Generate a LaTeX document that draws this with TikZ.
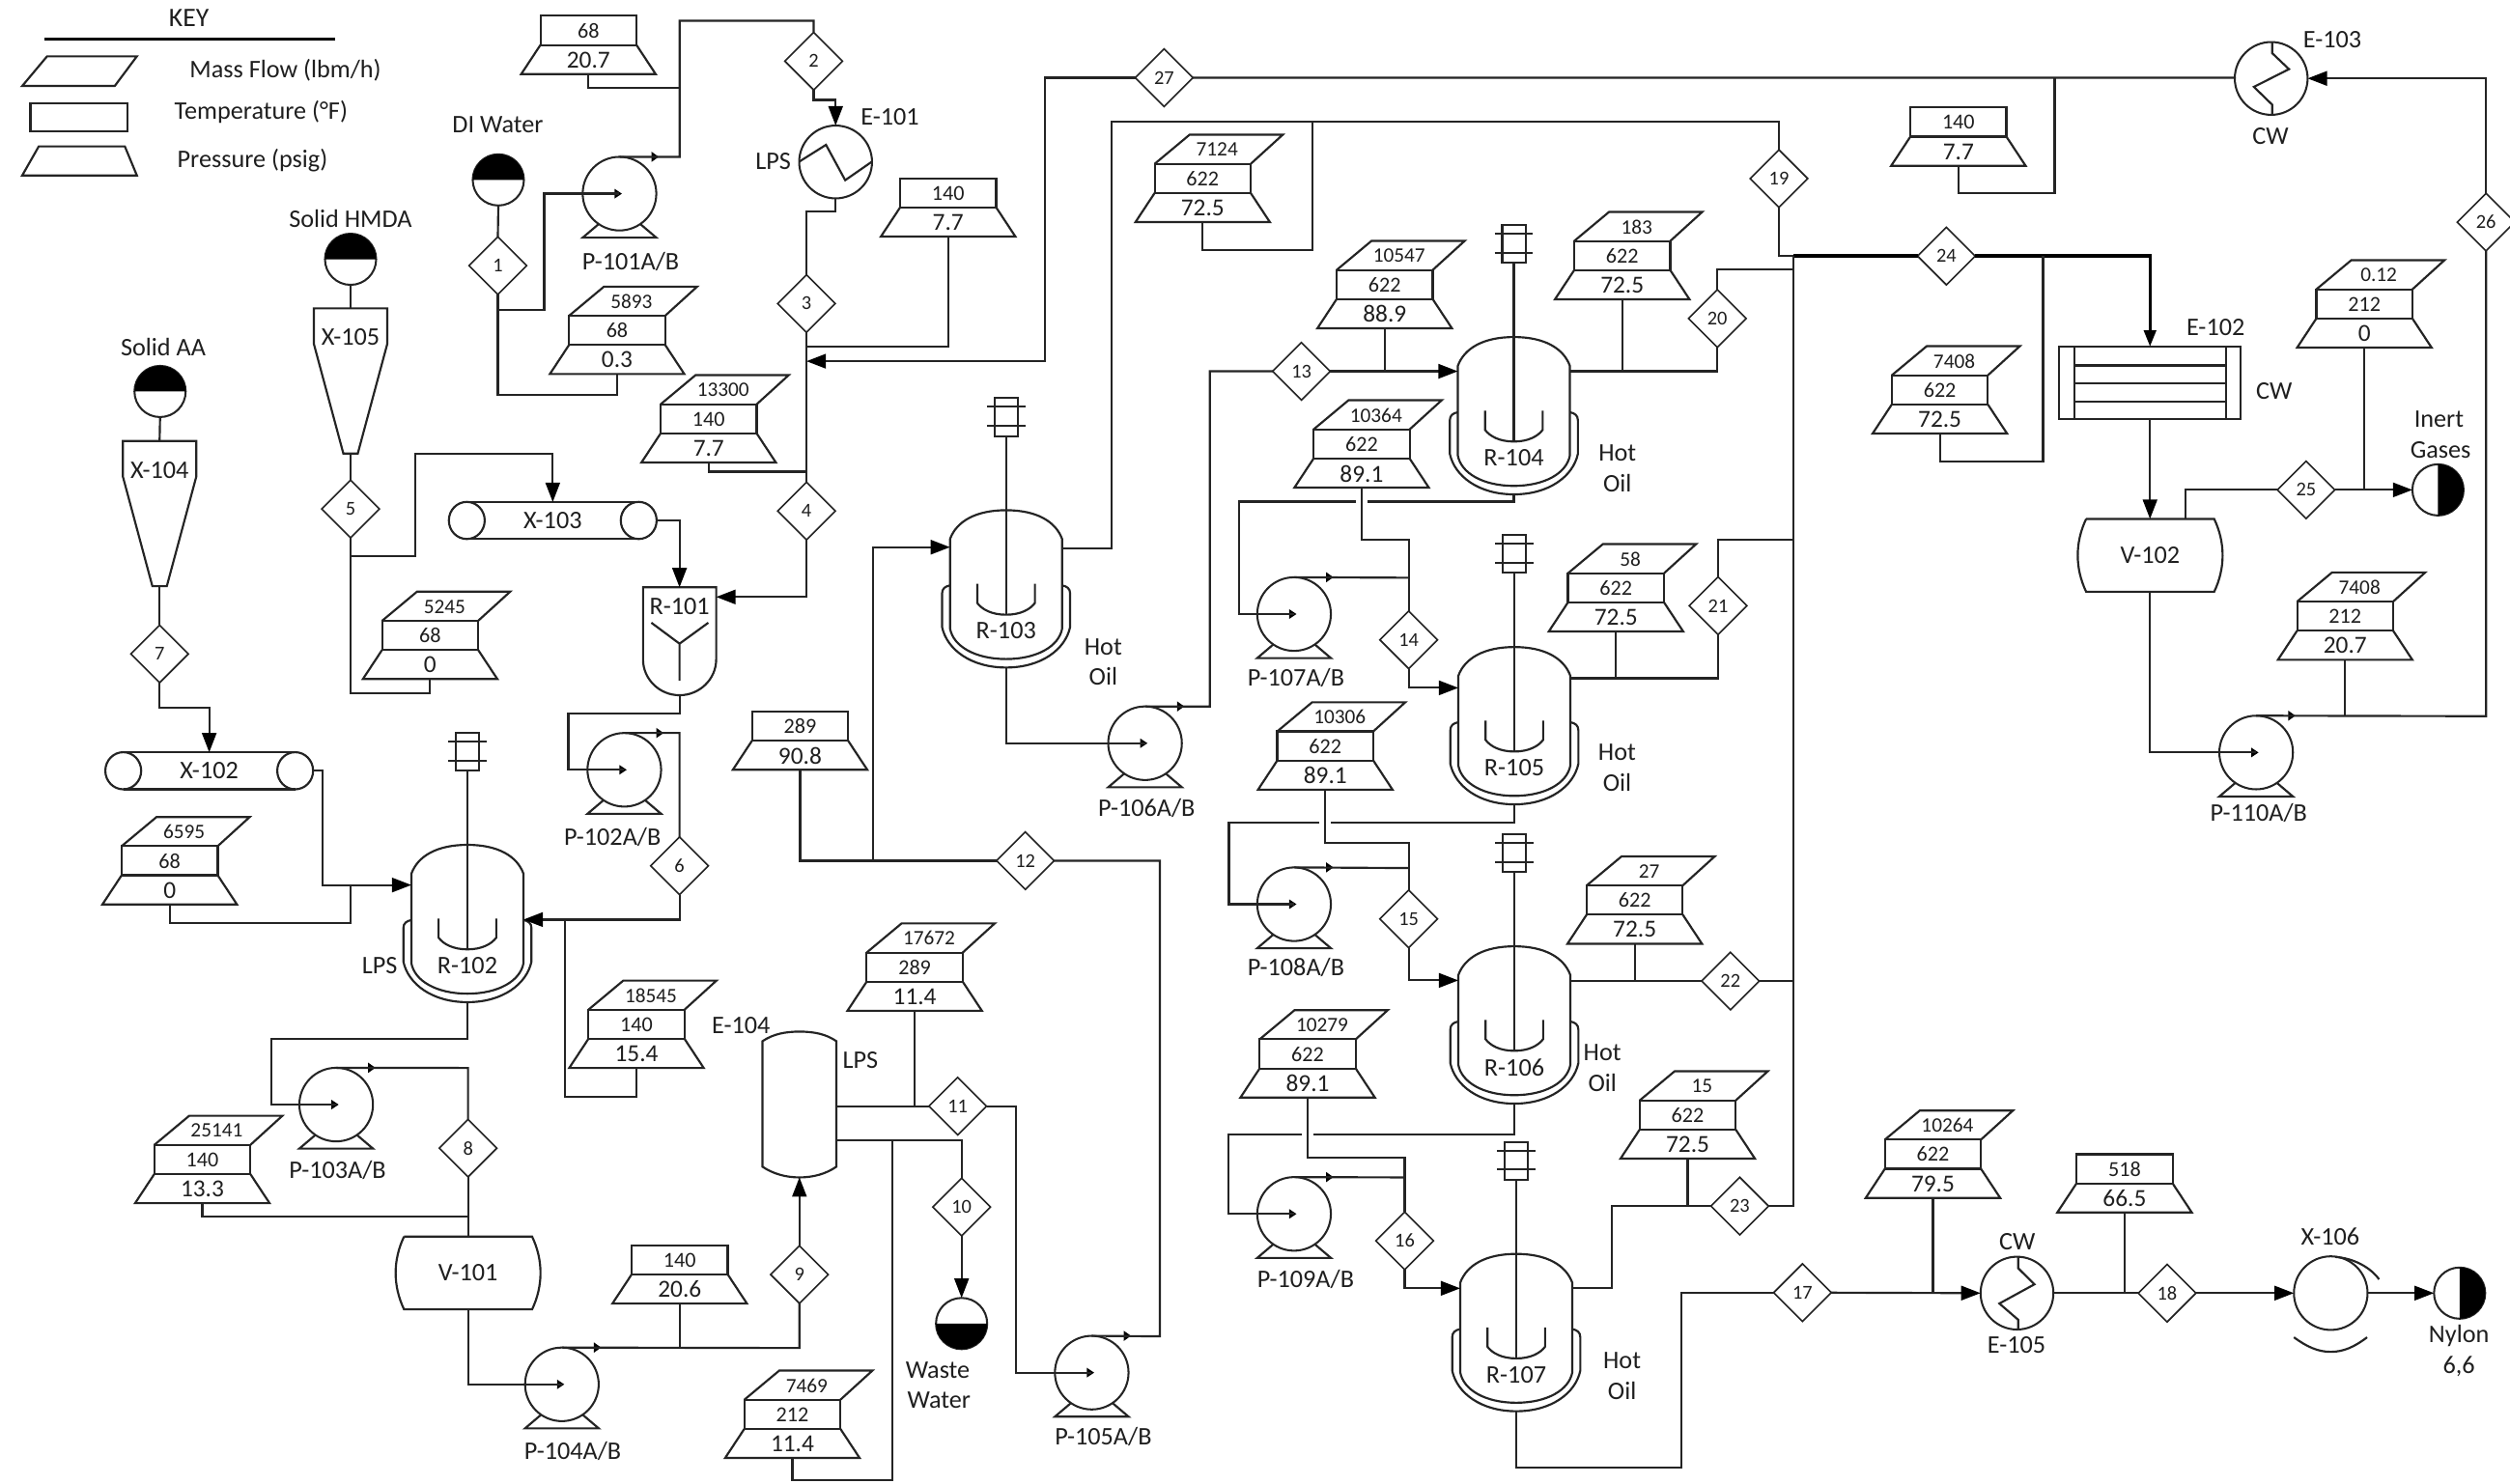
\documentclass[tikz,border=0pt]{standalone}
\usepackage{fontspec}
\setmainfont{Carlito}
\usetikzlibrary{shapes.geometric,arrows.meta}
\definecolor{linec}{gray}{0.14}
\definecolor{txtc}{gray}{0.12}
\tikzset{
  pipe/.style={draw=linec,line width=0.74pt,line join=miter},
  pipea/.style={pipe,-{Triangle[length=6.9pt,width=5.1pt,black]}},
  heavy/.style={draw=black,line width=1.2pt},
  heavya/.style={heavy,-{Triangle[length=5.8pt,width=4.2pt,black]}},
  sym/.style={draw=linec,line width=0.74pt,line join=miter},
  base/.style={inner sep=0pt,outer sep=0pt,text=txtc},
  lbl/.style={base,font=\fontsize{9}{10.8}\selectfont},
  pv/.style={base,font=\fontsize{8.7}{10}\selectfont},
  tv/.style={base,font=\fontsize{7.6}{9}\selectfont},
  fv/.style={base,font=\fontsize{7.3}{9}\selectfont},
  sn/.style={diamond,draw=linec,line width=0.55pt,fill=white,inner sep=0pt,outer sep=0pt,
    minimum width=0.72cm,minimum height=0.72cm,text=txtc,font=\fontsize{7}{8}\selectfont},
  pumpc/.style={circle,draw=linec,line width=0.7pt,minimum size=0.92cm,inner sep=0pt,outer sep=0pt},
  hx/.style={circle,draw=linec,line width=0.7pt,minimum size=0.91cm,inner sep=0pt,outer sep=0pt},
  srcc/.style={circle,draw=linec,line width=0.7pt,minimum size=0.64cm,inner sep=0pt,outer sep=0pt},
  frame/.style={base,font=\fontsize{9}{10.8}\selectfont},
}
% three-part data box: bottom centre is the named coordinate #1
\newcommand{\mytfp}[6]{%
  \coordinate (#1) at (#2,#3);
  \draw[sym] (#2-30,#3-36.4) -- (#2-8.2,#3-54.6) -- (#2+50,#3-54.6) -- (#2+30,#3-36.4);
  \draw[sym] (#2-30,#3-18.2) rectangle (#2+30,#3-36.4);
  \draw[sym] (#2-30,#3-18.2) -- (#2-42,#3) -- (#2+42,#3) -- (#2+30,#3-18.2);
  \node[fv] (#1-f) at (#2+9,#3-45.3) {#4};
  \node[tv] (#1-t) at (#2,#3-27.2) {#5};
  \node[pv] (#1-p) at (#2,#3-8.8) {#6};
}
% two-part data box
\newcommand{\mytpb}[5]{%
  \coordinate (#1) at (#2,#3);
  \draw[sym] (#2-30,#3-18.2) rectangle (#2+30,#3-36.4);
  \draw[sym] (#2-30,#3-18.2) -- (#2-42,#3) -- (#2+42,#3) -- (#2+30,#3-18.2);
  \node[tv] (#1-t) at (#2,#3-27.2) {#4};
  \node[pv] (#1-p) at (#2,#3-8.8) {#5};
}
\newcommand{\mypump}[3]{%
  \node[pumpc] (#1) at (#2,#3) {};
  \draw[sym] (#2-13,#3+19) -- (#2-23,#3+27.5) -- (#2+23,#3+27.5) -- (#2+13,#3+19);
  \fill[black] (#2+1.5,#3) -- (#2-3,#3-3) -- (#2-3,#3+3) -- cycle;
  \fill[black] (#2+24.5,#3-23) -- (#2+20,#3-26.2) -- (#2+20,#3-19.8) -- cycle;
}
% reactor: name, cx, top, label, y left nozzle, y right nozzle
\newcommand{\myreactor}[6]{%
  \coordinate (#1-l) at (#2-35,#5);
  \coordinate (#1-r) at (#2+35,#6);
  \coordinate (#1-b) at (#2,#3+98.3);
  \coordinate (#1-s) at (#2,#3-46.3);
  \draw[sym] (#2-35,#3+18) .. controls (#2-31,#3+7) and (#2-19,#3) .. (#2,#3)
     .. controls (#2+19,#3) and (#2+31,#3+7) .. (#2+35,#3+18)
     -- (#2+35,#3+74) .. controls (#2+33,#3+85) and (#2+19.3,#3+93) .. (#2,#3+93)
     .. controls (#2-19.3,#3+93) and (#2-33,#3+85) .. (#2-35,#3+74) -- cycle;
  \draw[sym] (#2-35,#3+47) .. controls (#2-38,#3+47.5) and (#2-40,#3+49) .. (#2-40,#3+52)
     -- (#2-40,#3+73) .. controls (#2-37,#3+87) and (#2-22,#3+98.3) .. (#2,#3+98.3)
     .. controls (#2+22,#3+98.3) and (#2+37,#3+87) .. (#2+40,#3+73)
     -- (#2+40,#3+52) .. controls (#2+40,#3+49) and (#2+38,#3+47.5) .. (#2+35,#3+47);
  \draw[sym] (#2-18,#3+46) -- (#2-18,#3+58) .. controls (#2-15,#3+62) and (#2-9,#3+65.3) .. (#2,#3+65.3)
     .. controls (#2+9,#3+65.3) and (#2+15,#3+62) .. (#2+18,#3+58) -- (#2+18,#3+46);
  \draw[sym] (#2-7.3,#3-70) rectangle (#2+7.3,#3-46.3);
  \draw[sym] (#2-12,#3-64.6) -- (#2+12,#3-64.6) (#2-12,#3-52.7) -- (#2+12,#3-52.7);
  \draw[sym] (#1-s) -- (#2,#3+65.3);
  \node[lbl] (#1-n) at (#2,#3+75.5) {#4};
}
\newcommand{\myhopper}[5]{%
  \coordinate (#1-t) at (#2,#3);
  \coordinate (#1-b) at (#2,#3+90.7);
  \draw[sym] (#2-22.9,#3) -- (#2+22.9,#3) -- (#2+22.9,#3+22.3) -- (#2+4.5,#3+90.7) -- (#2-4.5,#3+90.7) -- (#2-22.9,#3+22.3) -- cycle;
  \node[lbl] (#1-n) at (#2,#3+18) {#4};
}
\newcommand{\mydrumh}[5]{%
  \node[lbl,minimum width=2.6cm,minimum height=0.46cm] (#1) at (#2,#3) {#4};
  \draw[sym] (#2-53.7,#3-11.6) -- (#2+53.7,#3-11.6) (#2-53.7,#3+11.6) -- (#2+53.7,#3+11.6);
  \draw[sym] (#2-53.7,#3) ellipse (11.2 and 11.6);
  \draw[sym] (#2+53.7,#3) ellipse (11.2 and 11.6);
}
\newcommand{\myvessel}[4]{%
  \node[lbl,minimum width=1.8cm,minimum height=0.91cm] (#1) at (#2,#3) {#4};
  \draw[sym] (#2-40,#3-22.75) -- (#2+40,#3-22.75) .. controls (#2+47,#3-8) and (#2+47,#3+8) .. (#2+40,#3+22.75)
     -- (#2-40,#3+22.75) .. controls (#2-47,#3+8) and (#2-47,#3-8) .. (#2-40,#3-22.75);
}
\newcommand{\mysrc}[4]{%
  \node[srcc] (#1) at (#2,#3) {};
  \fill[black,rotate around={#4:(#2,#3)}] (#2-16,#3) .. controls (#2-16,#3-8.84) and (#2-8.84,#3-16) .. (#2,#3-16)
     .. controls (#2+8.84,#3-16) and (#2+16,#3-8.84) .. (#2+16,#3) -- cycle;
}
\begin{document}
\begin{tikzpicture}[x=0.02cm,y=-0.02cm]
\useasboundingbox[fill=white] (0,0) rectangle (1568,926.7);

% ---- key
\node[frame,font=\fontsize{9.5}{11}\selectfont] (keyt) at (118,11.5) {KEY};
\coordinate (keya) at (27.7,24.5); \coordinate (keyb) at (209.5,24.5);
\draw[black,line width=1pt] (keya) -- (keyb);
\draw[sym] (29.4,35.2) -- (85.5,35.2) -- (71.7,53.7) -- (13.9,53.7) -- cycle;
\draw[sym] (19,64.4) rectangle (79.6,82);
\draw[sym] (24.2,91.5) -- (78,91.5) -- (85.5,109.6) -- (13.9,109.6) -- cycle;
\node[lbl,anchor=west] (keyf) at (118.5,44) {Mass Flow (lbm/h)};
\node[lbl,anchor=west] (keyc) at (109,70) {Temperature (°F)};
\node[lbl,anchor=west] (keyp) at (110.8,100) {Pressure (psig)};

% ---- stream diamonds
\node[sn] (s1) at (311,166) {1};
\node[sn] (s2) at (508.3,38.2) {2};
\node[sn] (s3) at (503.8,189.7) {3};
\node[sn] (s4) at (503.8,319.3) {4};
\node[sn] (s5) at (219,318) {5};
\node[sn] (s6) at (424.5,541) {6};
\node[sn] (s7) at (99.7,408.6) {7};
\node[sn] (s8) at (292.4,717.4) {8};
\node[sn] (s9) at (499.4,796.4) {9};
\node[sn] (s10) at (600.7,754.2) {10};
\node[sn] (s11) at (598.3,691.2) {11};
\node[sn] (s12) at (640.5,537.8) {12};
\node[sn] (s13) at (813,232) {13};
\node[sn] (s14) at (880,399.8) {14};
\node[sn] (s15) at (880,574.2) {15};
\node[sn] (s16) at (877.5,775.3) {16};
\node[sn] (s17) at (1126,807.7) {17};
\node[sn] (s18) at (1353.8,808) {18};
\node[sn] (s19) at (1111.3,111.6) {19};
\node[sn] (s20) at (1072.8,199) {20};
\node[sn] (s21) at (1073.3,378.5) {21};
\node[sn] (s22) at (1081,613) {22};
\node[sn] (s23) at (1086.8,753.6) {23};
\node[sn] (s24) at (1215.9,160) {24};
\node[sn] (s25) at (1440.6,306.1) {25};
\node[sn] (s26) at (1553,138.8) {26};
\node[sn] (s27) at (727.2,48.6) {27};

% ---- sources and sinks
\mysrc{di}{311.3}{112.4}{0}
\mysrc{hm}{219}{162}{0}
\mysrc{aa}{100}{244.6}{0}
\mysrc{waste}{600.7}{827}{180}
\mysrc{ig}{1523}{306.1}{-90}
\mysrc{nylon}{1536.5}{808}{-90}
\node[lbl] (ldi) at (311,78) {DI Water};
\node[lbl] (lhm) at (219,136.4) {Solid HMDA};
\node[lbl] (laa) at (102,216.7) {Solid AA};
\node[lbl] (lw1) at (585.8,856.1) {Waste};
\node[lbl] (lw2) at (586.6,874.9) {Water};
\node[lbl] (lig1) at (1523.6,262) {Inert};
\node[lbl] (lig2) at (1524.6,281) {Gases};
\node[lbl] (lny1) at (1536.1,834.6) {Nylon};
\node[lbl] (lny2) at (1536.1,853.7) {6,6};

% ---- solids handling
\myhopper{x105}{219}{192.7}{X-105}{}
\myhopper{x104}{99.7}{275.6}{X-104}{}
\mydrumh{x103}{345.3}{325.2}{X-103}{}
\mydrumh{x102}{130.7}{481.6}{X-102}{}

% ---- R-101
\node[base,minimum width=0.914cm,minimum height=1.348cm] (r101) at (424.5,400.7) {};
\coordinate (r101r) at (447.4,373);
\draw[sym] (401.7,367) -- (447.4,367) -- (447.4,412) .. controls (447.4,424.4) and (437,434.4) .. (424.5,434.4)
   .. controls (412,434.4) and (401.7,424.4) .. (401.7,412) -- cycle;
\draw[sym] (406.9,389.1) -- (424.5,402.2) -- (442.5,389.1) (424.5,402.2) -- (424.5,425.3);
\node[lbl] (r101n) at (424.5,379) {R-101};

% ---- reactors
\myreactor{r2}{292}{527.9}{R-102}{553}{574.6}
\myreactor{r3}{628.5}{318.8}{R-103}{341.9}{342.9}
\myreactor{r4}{945.7}{210.6}{R-104}{232}{232}
\myreactor{r5}{946}{404.3}{R-105}{429.8}{423.8}
\myreactor{r6}{946}{591.3}{R-106}{612.6}{613}
\myreactor{r7}{947.2}{783.5}{R-107}{805}{805}
\node[lbl] (lps2) at (237.2,603.3) {LPS};
\node[lbl] (h3a) at (689.2,404.2) {Hot};
\node[lbl] (h3b) at (689.2,422.4) {Oil};
\node[lbl] (h4a) at (1010.4,283) {Hot};
\node[lbl] (h4b) at (1010.4,301.7) {Oil};
\node[lbl] (h5a) at (1010.2,470.2) {Hot};
\node[lbl] (h5b) at (1010.2,488.7) {Oil};
\node[lbl] (h6a) at (1001,657.6) {Hot};
\node[lbl] (h6b) at (1001,676.3) {Oil};
\node[lbl] (h7a) at (1013.3,850.1) {Hot};
\node[lbl] (h7b) at (1013.3,868.8) {Oil};

% ---- vessels
\myvessel{v1}{292.4}{795.4}{V-101}
\myvessel{v2}{1343.2}{347}{V-102}

% ---- E-104
\node[base,minimum width=0.924cm,minimum height=1.822cm] (e104) at (499.4,690.1) {};
\coordinate (e4a) at (522.5,691.2);
\coordinate (e4b) at (522.5,712.5);
\draw[sym] (476.3,650.6) .. controls (483,646) and (491,644.6) .. (499.4,644.6) .. controls (508,644.6) and (516,646) .. (522.5,650.6)
   -- (522.5,729) .. controls (516,733.5) and (508,735.7) .. (499.4,735.7) .. controls (491,735.7) and (483,733.5) .. (476.3,729) -- cycle;
\node[lbl] (e104n) at (462.9,640.5) {E-104};
\node[lbl] (e104s) at (537.5,662.3) {LPS};

% ---- exchangers
\node[hx] (e101) at (522,101.2) {};
\draw[sym] (499.3,101) -- (516,90.5) -- (528,112.6) -- (544.7,101);
\node[lbl] (e101n) at (556,73) {E-101};
\node[lbl] (e101s) at (483,101) {LPS};
\node[hx] (e103) at (1418.8,49) {};
\draw[sym] (1419.4,26.2) -- (1419.4,33.2) -- (1429.9,43.2) -- (1408,54.3) -- (1419.4,65.4) -- (1419.4,71.8);
\node[lbl] (e103n) at (1457,25) {E-103};
\node[lbl] (e103c) at (1418.4,85) {CW};
\node[hx] (e105) at (1260,808) {};
\draw[sym] (1260.7,785.3) -- (1260.7,792.4) -- (1270.9,802.5) -- (1249,814.5) -- (1260.7,824.6) -- (1260.7,830.7);
\node[lbl] (e105c) at (1260.2,775.7) {CW};
\node[lbl] (e105n) at (1259.7,840.3) {E-105};
\node[base,draw=linec,line width=0.74pt,minimum width=2.268cm,minimum height=0.908cm] (e102) at (1343.1,239.3) {};
\draw[sym] (1295.9,216.6) -- (1295.9,262) (1390.7,216.6) -- (1390.7,262);
\draw[sym] (1295.9,228.3) -- (1390.7,228.3) (1295.9,239.7) -- (1390.7,239.7) (1295.9,250.8) -- (1390.7,250.8);
\node[lbl] (e102n) at (1384.1,204.5) {E-102};
\node[lbl] (e102c) at (1420.7,244.4) {CW};
\node[pumpc] (x106) at (1456,808) {};
\coordinate (x6a) at (1458.7,785.4); \coordinate (x6b) at (1486.2,799.4);
\coordinate (x6c) at (1433,835.6); \coordinate (x6d) at (1478.7,835.6);
\draw[sym] (x6a) .. controls (1470,786) and (1481,792) .. (x6b);
\draw[sym] (x6c) .. controls (1441,841.5) and (1448,844.7) .. (1456,844.7) .. controls (1464,844.7) and (1471,841.5) .. (x6d);
\node[lbl] (x106n) at (1455.7,772.7) {X-106};

% ---- pumps
\mypump{p1}{387}{121}
\mypump{p2}{390}{481}
\mypump{p3}{210}{690.2}
\mypump{p4}{351}{865}
\mypump{p5}{682}{857.7}
\mypump{p6}{715.3}{464.4}
\mypump{p7}{808.4}{383.7}
\mypump{p8}{808.4}{565}
\mypump{p9}{808.4}{758.5}
\mypump{p10}{1409.4}{470.2}
\node[lbl] (p1n) at (394,163.3) {P-101A/B};
\node[lbl] (p2n) at (382.6,523) {P-102A/B};
\node[lbl] (p3n) at (210.9,731) {P-103A/B};
\node[lbl] (p4n) at (357.8,907) {P-104A/B};
\node[lbl] (p5n) at (689.2,897.4) {P-105A/B};
\node[lbl] (p6n) at (716.3,505.2) {P-106A/B};
\node[lbl] (p7n) at (809.6,423.4) {P-107A/B};
\node[lbl] (p8n) at (809.6,604.4) {P-108A/B};
\node[lbl] (p9n) at (815.6,799.4) {P-109A/B};
\node[lbl] (p10n) at (1411,508) {P-110A/B};

% ---- data boxes
\mytpb{b68}{367.6}{46.3}{68}{20.7}
\mytpb{b140a}{592.3}{147.8}{140}{7.7}
\mytpb{b289}{499.8}{481}{289}{90.8}
\mytpb{b140c}{424.6}{814.5}{140}{20.6}
\mytpb{b140d}{1223.4}{103.6}{140}{7.7}
\mytpb{b518}{1327.2}{757.6}{518}{66.5}
\mytfp{b5893}{385.5}{233.7}{5893}{68}{0.3}
\mytfp{b13300}{442.7}{289}{13300}{140}{7.7}
\mytfp{b5245}{268.7}{424.3}{5245}{68}{0}
\mytfp{b6595}{106}{565.1}{6595}{68}{0}
\mytfp{b18545}{397.6}{667.3}{18545}{140}{15.4}
\mytfp{b25141}{126.4}{751.8}{25141}{140}{13.3}
\mytfp{b7469}{495}{911}{7469}{212}{11.4}
\mytfp{b17672}{571.4}{631.6}{17672}{289}{11.4}
\mytfp{b7124}{751.3}{138.8}{7124}{622}{72.5}
\mytfp{b10547}{865}{205.1}{10547}{622}{88.9}
\mytfp{b183}{1013.4}{187}{183}{622}{72.5}
\mytfp{b10364}{850.6}{304.7}{10364}{622}{89.1}
\mytfp{b58}{1009.5}{394.6}{58}{622}{72.5}
\mytfp{b10306}{827.9}{493.4}{10306}{622}{89.1}
\mytfp{b27}{1021.2}{589.7}{27}{622}{72.5}
\mytfp{b10279}{816.9}{685.8}{10279}{622}{89.1}
\mytfp{b15}{1054.3}{724}{15}{622}{72.5}
\mytfp{b10264}{1207.5}{748.5}{10264}{622}{79.5}
\mytfp{b7408a}{1211.8}{270.9}{7408}{622}{72.5}
\mytfp{b012}{1477}{217.2}{0.12}{212}{0}
\mytfp{b7408b}{1465}{412.3}{7408}{212}{20.7}

% ---- connectors
\draw[pipe] (di.south) -- (s1.north);
\draw[pipe] (hm.south) -- (x105-t);
\draw[pipe] (aa.south) -- (x104-t);
\draw[pipe] (x105-b) -- (s5.north);
\draw[pipe] (x104-b) -- (s7.north);
\draw[pipea] (s7.south) -- (99.7,442.4) -- (130.7,442.4) -- (x102.north);
\draw[pipea] (x102.east) -- (201.7,481.6) -- (201.7,553) -- (r2-l);
\draw[pipe] (b6595) -- (106,576.8) -- (219.2,576.8) -- (219.2,553);
\draw[pipe] (s5.south) -- (219,433) -- (268.7,433) -- (b5245);
\draw[pipea] (219,347.5) -- (259.3,347.5) -- (259.3,283.6) -- (345.3,283.6) -- (x103.north);
\draw[pipea] (x103.east) -- (424.5,325.2) -- (r101.north);
\draw[pipe] (s1.south) -- (311,246.5) -- (385.5,246.5) -- (b5893);
\draw[pipe] (311,193.5) -- (340,193.5) -- (340,121) -- (p1.center);
\draw[pipe] (p1.north) -- (424.6,98) -- (424.6,13) -- (508.3,13) -- (s2.north);
\draw[pipe] (b68) -- (367.6,54.7) -- (424.6,54.7);
\draw[pipea] (s2.south) -- (508.3,62.4) -- (522,62.4) -- (e101.north);
\draw[pipe] (e101.south) -- (522,132.3) -- (503.8,132.3) -- (s3.north);
\draw[pipe] (s3.south) -- (s4.north);
\draw[pipe] (b140a) -- (592.3,216.8) -- (503.8,216.8);
\draw[pipe] (b13300) -- (442.7,294.7) -- (503.8,294.7);
\draw[pipea] (s4.south) -- (503.8,373) -- (r101r);
\draw[pipe] (r101.south) -- (424.5,446) -- (355,446) -- (355,481) -- (p2.center);
\draw[pipe] (p2.north) -- (424.5,458) -- (s6.north);
\draw[pipea] (s6.south) -- (424.5,574.6) -- (r2-r);
\draw[pipe] (b18545) -- (397.6,685.2) -- (352.8,685.2) -- (352.8,574.6);
\draw[pipe] (r2-b) -- (292,649.2) -- (169.3,649.2) -- (169.3,690.2) -- (p3.center);
\draw[pipe] (p3.north) -- (292.4,667.3) -- (s8.north);
\draw[pipe] (s8.south) -- (v1.north);
\draw[pipe] (b25141) -- (126.4,760.2) -- (292.4,760.2);
\draw[pipe] (v1.south) -- (292.4,865) -- (p4.center);
\draw[pipe] (p4.north) -- (499.4,842.3) -- (s9.south);
\draw[pipe] (b140c) -- (424.6,842.3);
\draw[pipea] (s9.north) -- (e104.south);
\draw[pipe] (e4a) -- (s11.west);
\draw[pipe] (b17672) -- (571.4,691.2);
\draw[pipe] (s11.east) -- (634.5,691.2) -- (634.5,857.7) -- (p5.center);
\draw[pipe] (e4b) -- (600.7,712.5) -- (s10.north);
\draw[pipe] (557.5,712.5) -- (557.5,925.1) -- (495,925.1) -- (b7469);
\draw[pipea] (s10.south) -- (waste.north);
\draw[pipe] (p5.north) -- (724.6,835) -- (724.6,537.8) -- (s12.east);
\draw[pipe] (s12.west) -- (499.8,537.8) -- (b289);
\draw[pipea] (545.6,537.8) -- (545.6,341.9) -- (r3-l);
\draw[pipe] (r3-r) -- (694.4,342.9) -- (694.4,75.8) -- (1111.3,75.8) -- (s19.north);
\draw[pipe] (b7124) -- (751.3,156.5) -- (820,156.5) -- (820,75.8);
\draw[pipe] (r3-b) -- (628.5,464.4) -- (p6.center);
\draw[pipe] (p6.north) -- (755.8,441.5) -- (755.8,232) -- (s13.west);
\draw[pipea] (s13.east) -- (r4-l);
\draw[pipe] (b10547) -- (865,232);
\draw[pipe] (r4-r) -- (1072.8,232) -- (s20.south);
\draw[pipe] (b183) -- (1013.4,232);
\draw[pipe] (s20.north) -- (1072.8,168.5) -- (1120.2,168.5);
\draw[pipe] (s19.south) -- (1111.3,160) -- (1120.2,160);
\draw[heavy] (1120.2,160) -- (s24.west);
\draw[heavya] (s24.east) -- (1343.1,160) -- (e102.north);
\draw[pipe] (1276.3,160) -- (1276.3,288.6) -- (1211.8,288.6) -- (b7408a);
\draw[pipe] (1120.2,160) -- (1120.2,753.6) -- (s23.east);
\draw[pipe] (s21.north) -- (1073.3,337) -- (1120.2,337);
\draw[pipe] (s22.east) -- (1120.2,613);
\draw[pipe] (r5-r) -- (1073.3,423.8) -- (s21.south);
\draw[pipe] (b58) -- (1009.5,423.8);
\draw[pipe] (r6-r) -- (s22.west);
\draw[pipe] (b27) -- (1021.2,613);
\draw[pipe] (s23.west) -- (1006.8,753.6) -- (1006.8,805) -- (r7-r);
\draw[pipe] (b15) -- (1054.3,753.6);
\draw[pipe] (r4-b) -- (945.7,313.4) -- (854.2,313.4);
\draw[pipe] (846.8,313.4) -- (774.2,313.4) -- (774.2,383.7) -- (p7.center);
\draw[pipe] (b10364) -- (850.6,337) -- (880,337) -- (s14.north);
\draw[pipe] (p7.north) -- (880,361);
\draw[pipea] (s14.south) -- (880,429.8) -- (r5-l);
\draw[pipe] (r5-b) -- (946,513.9) -- (831.5,513.9);
\draw[pipe] (824,513.9) -- (767.7,513.9) -- (767.7,565) -- (p8.center);
\draw[pipe] (b10306) -- (827.9,526.5) -- (880,526.5) -- (s15.north);
\draw[pipe] (p8.north) -- (880,542.4);
\draw[pipea] (s15.south) -- (880,612.6) -- (r6-l);
\draw[pipe] (r6-b) -- (946,708.9) -- (820.7,708.9);
\draw[pipe] (813,708.9) -- (767.5,708.9) -- (767.5,758.5) -- (p9.center);
\draw[pipe] (b10279) -- (816.9,723.6) -- (877.5,723.6) -- (s16.north);
\draw[pipe] (p9.north) -- (877.5,735.7);
\draw[pipea] (s16.south) -- (877.5,805) -- (r7-l);
\draw[pipe] (r7-b) -- (947.2,917) -- (1050.3,917) -- (1050.3,807.7) -- (s17.west);
\draw[pipea] (s17.east) -- (e105.west);
\draw[pipe] (b10264) -- (1207.5,807.7);
\draw[pipe] (e105.east) -- (s18.west);
\draw[pipe] (b518) -- (1327.2,808);
\draw[pipea] (s18.east) -- (x106.west);
\draw[pipea] (x106.east) -- (nylon.west);
\draw[pipea] (e102.south) -- (v2.north -| e102.south);
\draw[pipe] (v2.south) -- (1343.2,470.2) -- (p10.center);
\draw[pipe] (p10.north) -- (1553,447.5) -- (s26.south);
\draw[pipe] (b7408b) -- (1465,447.5);
\draw[pipea] (s26.north) -- (1553,49) -- (e103.east);
\draw[pipe] (e103.west) -- (1396,48.6) -- (s27.east);
\coordinate (j3) at (503.8,225.7);
\draw[pipea] (s27.west) -- (652.8,48.6) -- (652.8,225.7) -- (j3);
\draw[pipe] (1283.5,48.6) -- (1283.5,120.7) -- (1223.4,120.7) -- (b140d);
\draw[pipe] (1365.2,324.2) -- (1365.2,306.1) -- (s25.west);
\draw[pipea] (s25.east) -- (ig.west);
\draw[pipe] (b012) -- (1477,306.1);
\end{tikzpicture}
\end{document}
